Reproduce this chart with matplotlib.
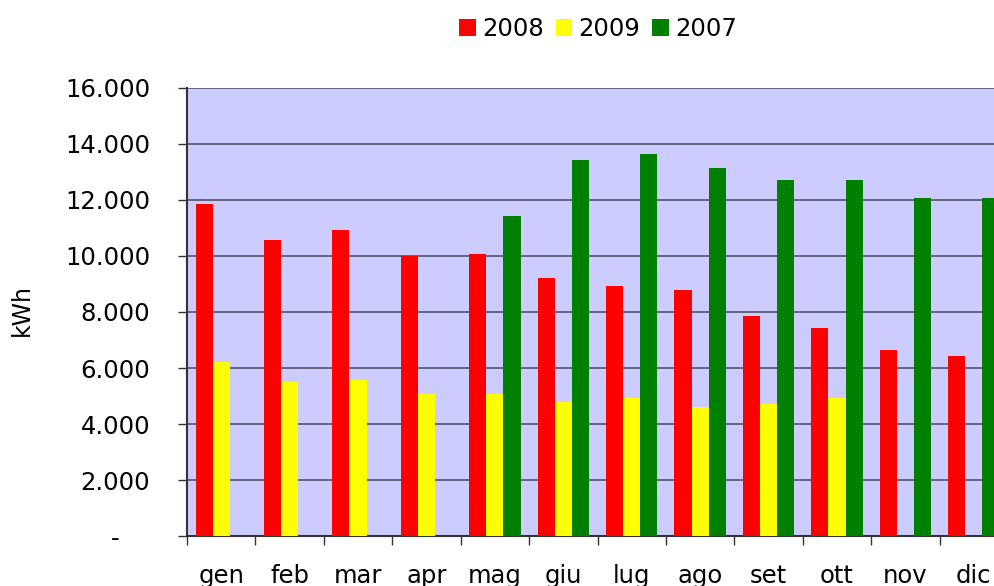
import numpy as np
import matplotlib
matplotlib.use("Agg")
import matplotlib.pyplot as plt
from matplotlib.ticker import FuncFormatter

months = ['gen', 'feb', 'mar', 'apr', 'mag', 'giu', 'lug', 'ago', 'set', 'ott', 'nov', 'dic']
kwh_2008 = [11860, 10570, 10930, 10000, 10070, 9210, 8930, 8790, 7860, 7430, 6640, 6430]
kwh_2009 = [6210, 5500, 5570, 5070, 5070, 4790, 4930, 4610, 4710, 4930, None, None]
kwh_2007 = [None, None, None, None, 11430, 13430, 13640, 13140, 12710, 12710, 12070, 12070]

series = [('2008', kwh_2008, '#ff0000'),
          ('2009', kwh_2009, '#ffff00'),
          ('2007', kwh_2007, '#008000')]

plt.rcParams['font.family'] = ['DejaVu Sans']

fig = plt.figure(figsize=(9.95, 5.86), dpi=100)
ax = fig.add_axes([187 / 995, 50 / 586, 821 / 995, 448 / 586])
ax.set_facecolor('#ccccff')

x = np.arange(len(months))
w = 0.25
for k, (name, vals, col) in enumerate(series):
    v = np.array([np.nan if a is None else a for a in vals], dtype=float)
    ax.bar(x + (k - 1) * w, v, width=w, color=col, label=name, zorder=3)

ax.set_xlim(-0.5, len(months) - 0.5)
ax.set_ylim(0, 16000)
ax.set_yticks(np.arange(0, 16001, 2000))


def fmt(v, pos):
    if v == 0:
        return '-    '
    return f'{int(v):,}'.replace(',', '.')


ax.yaxis.set_major_formatter(FuncFormatter(fmt))
ax.yaxis.grid(True, color='#646480', linewidth=1.4, zorder=1)
ax.set_axisbelow(True)

# month labels sit partly below the figure edge, as in the original
ax.set_xticks(x)
ax.set_xticklabels(months)
ax.set_xticks(np.arange(-0.5, len(months), 1), minor=True)
ax.tick_params(axis='x', which='major', length=0, pad=20, labelsize=17.5)
ax.tick_params(axis='x', which='minor', length=6.5, width=1, color='#333333')
ax.tick_params(axis='y', length=6.5, width=1, color='#333333', pad=20, labelsize=17.5)

for s in ['top', 'right']:
    ax.spines[s].set_visible(False)
ax.spines['left'].set_color('#333333')
ax.spines['left'].set_linewidth(1.5)
ax.spines['bottom'].set_color('#333333')
ax.spines['bottom'].set_linewidth(1.5)

fig.text(22 / 995, 1 - 310 / 586, 'kWh', rotation=90, fontsize=17, ha='center', va='center')

fig.legend(loc='upper center', bbox_to_anchor=(598 / 995, 1.008), ncol=3, frameon=False,
           fontsize=17.5, handlelength=0.68, handleheight=0.68, handletextpad=0.25,
           columnspacing=0.5)

fig.savefig('out.png', dpi=100)
